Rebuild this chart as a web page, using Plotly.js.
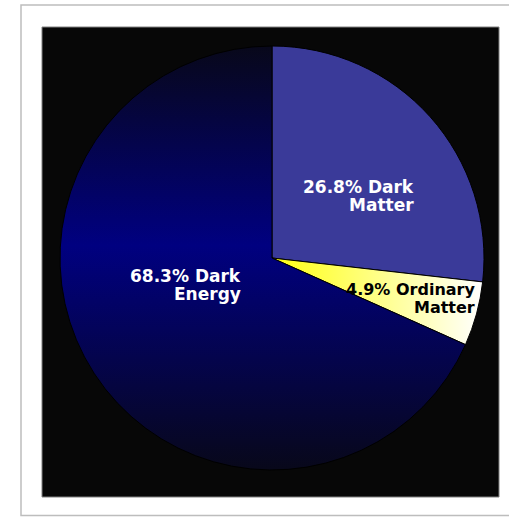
<!DOCTYPE html>
<html>
<head>
<meta charset="utf-8">
<script src="https://cdn.plot.ly/plotly-3.0.1.min.js"></script>
<style>
  html, body { margin: 0; padding: 0; background: #ffffff; }
  #chart { width: 509px; height: 517px; }
</style>
</head>
<body>
<div id="chart"></div>
<script>
// Composition of the universe (percent of total energy density)
const components = ["Dark Matter", "Ordinary Matter", "Dark Energy"];
const shares = [26.8, 4.9, 68.3];
const textColors = ["#ffffff", "#000000", "#ffffff"];
const textSizes = [17, 16, 17];

// Flat fallback colours; gradients are applied after drawing
const sliceColors = ["#3a3a99", "#ffff80", "#00007a"];
const sliceGradients = [null, "gradOrdinary", "gradEnergy"];

// Label anchors (paper px: right edge, line-1 middle, line-2 middle)
const labelAnchors = [
  [414, 187, 205],
  [475, 289.5, 307],
  [240.5, 276, 294]
];

const W = 509, H = 517;
const M = { l: 42, r: 10, t: 27, b: 20 };
const pw = W - M.l - M.r, ph = H - M.t - M.b;
const px = x => (x - M.l) / pw;
const py = y => (H - M.b - y) / ph;

const annotations = [];
components.forEach((name, i) => {
  const words = name.split(" ");
  const lines = [shares[i].toFixed(1) + "% " + words[0], words.slice(1).join(" ")];
  const [xr, y1, y2] = labelAnchors[i];
  [y1, y2].forEach((yy, k) => {
    annotations.push({
      xref: "paper", yref: "paper",
      x: px(xr), y: py(yy),
      xanchor: "right", yanchor: "middle",
      text: lines[k], showarrow: false,
      borderpad: 0, borderwidth: 0,
      font: { family: "DejaVu Sans", size: textSizes[i], weight: "bold", color: textColors[i] }
    });
  });
});

const trace = {
  type: "pie",
  labels: components,
  values: shares,
  sort: false,
  direction: "clockwise",
  rotation: 0,
  textinfo: "none",
  hoverinfo: "none",
  marker: { colors: sliceColors, line: { color: "#000000", width: 1 } },
  domain: { x: [px(60), px(484)], y: [py(470.5), py(45.5)] },
  showlegend: false
};

const layout = {
  width: W, height: H,
  margin: M,
  paper_bgcolor: "#ffffff",
  plot_bgcolor: "#ffffff",
  showlegend: false,
  shapes: [
    { type: "rect", xref: "paper", yref: "paper", layer: "below",
      x0: px(21), x1: px(530), y0: py(515.5), y1: py(5),
      fillcolor: "#ffffff", line: { color: "#bdbdbd", width: 1.5 } },
    { type: "rect", xref: "paper", yref: "paper", layer: "below",
      x0: px(42), x1: px(499), y0: py(497), y1: py(27),
      fillcolor: "#070707", line: { color: "#808080", width: 1 } }
  ],
  annotations: annotations
};

Plotly.newPlot("chart", [trace], layout, { displayModeBar: false, staticPlot: true }).then(gd => {
  const svgNS = "http://www.w3.org/2000/svg";
  const svg = gd.querySelector("svg.main-svg");
  let defs = svg.querySelector("defs");
  if (!defs) { defs = document.createElementNS(svgNS, "defs"); svg.insertBefore(defs, svg.firstChild); }

  function addGradient(id, x2, y2, stops) {
    const g = document.createElementNS(svgNS, "linearGradient");
    g.setAttribute("id", id);
    g.setAttribute("x1", "0"); g.setAttribute("y1", "0");
    g.setAttribute("x2", x2); g.setAttribute("y2", y2);
    stops.forEach(([off, col]) => {
      const s = document.createElementNS(svgNS, "stop");
      s.setAttribute("offset", off);
      s.setAttribute("stop-color", col);
      g.appendChild(s);
    });
    defs.appendChild(g);
  }
  // Dark energy: dark at the poles, deep navy across the middle
  addGradient("gradEnergy", "0", "1", [[0, "#08081a"], [0.47, "#000080"], [1, "#08081a"]]);
  // Ordinary matter: yellow near the centre fading to white at the rim
  addGradient("gradOrdinary", "1", "0", [[0, "#ffff10"], [1, "#ffffff"]]);

  const paths = gd.querySelectorAll("g.slice path.surface");
  paths.forEach((p, i) => {
    if (sliceGradients[i]) p.style.fill = "url(#" + sliceGradients[i] + ")";
  });
});
</script>
</body>
</html>
